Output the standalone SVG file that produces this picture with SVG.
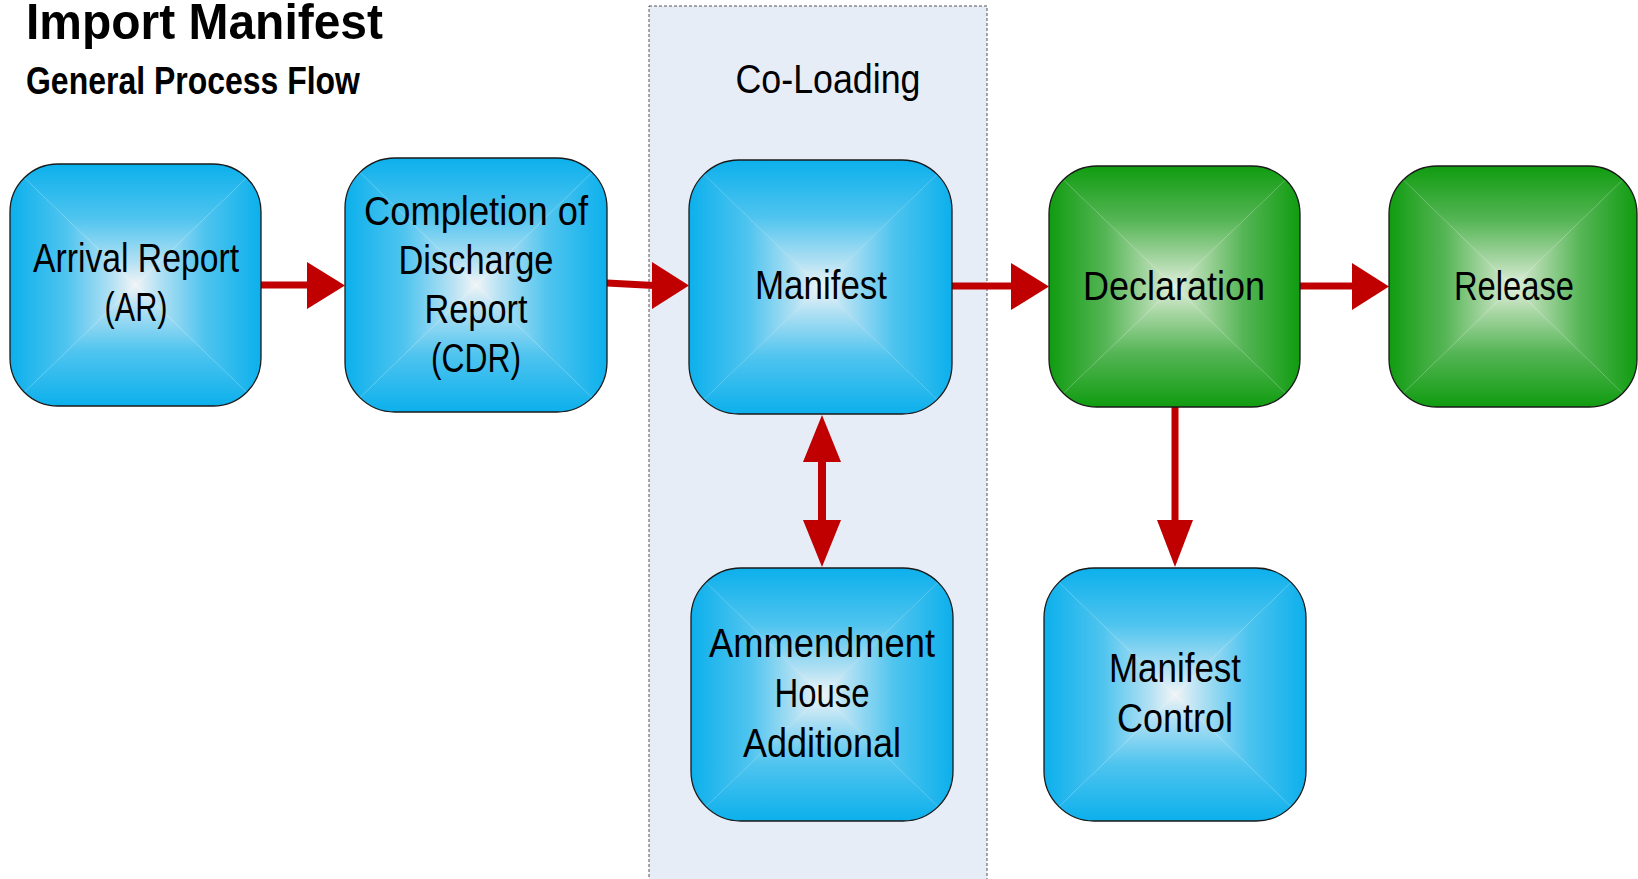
<svg xmlns="http://www.w3.org/2000/svg" width="1638" height="879" viewBox="0 0 1638 879">
<style>
.t{font-family:"Liberation Sans",Arial,sans-serif;font-size:40px;fill:#000;text-anchor:middle}
.h{font-family:"Liberation Sans",Arial,sans-serif;font-weight:bold;fill:#000}
.edge{fill:none;stroke:#1a1a1a;stroke-width:1.3}
.ln{fill:none;stroke:#c00000;stroke-width:7;stroke-linecap:round}
.hd{fill:#c00000;stroke:none}
</style>
<defs>
<clipPath id="rr" clipPathUnits="objectBoundingBox"><rect x="0" y="0" width="1" height="1" rx="0.19" ry="0.2"/></clipPath>
<linearGradient id="bT" x1="0" y1="0" x2="0" y2="1"><stop offset="0" stop-color="#0cb0ec"/><stop offset="0.45" stop-color="#4fc4ef"/><stop offset="0.8" stop-color="#b0e0f3"/><stop offset="1" stop-color="#f0f4f6"/></linearGradient>
<linearGradient id="bB" x1="0" y1="1" x2="0" y2="0"><stop offset="0" stop-color="#0cb0ec"/><stop offset="0.45" stop-color="#4fc4ef"/><stop offset="0.8" stop-color="#b0e0f3"/><stop offset="1" stop-color="#f0f4f6"/></linearGradient>
<linearGradient id="bL" x1="0" y1="0" x2="1" y2="0"><stop offset="0" stop-color="#0cb0ec"/><stop offset="0.45" stop-color="#4fc4ef"/><stop offset="0.8" stop-color="#b0e0f3"/><stop offset="1" stop-color="#f0f4f6"/></linearGradient>
<linearGradient id="bR" x1="1" y1="0" x2="0" y2="0"><stop offset="0" stop-color="#0cb0ec"/><stop offset="0.45" stop-color="#4fc4ef"/><stop offset="0.8" stop-color="#b0e0f3"/><stop offset="1" stop-color="#f0f4f6"/></linearGradient>
<linearGradient id="gT" x1="0" y1="0" x2="0" y2="1"><stop offset="0" stop-color="#109c10"/><stop offset="0.45" stop-color="#55b555"/><stop offset="0.8" stop-color="#acd8a8"/><stop offset="1" stop-color="#e2efdf"/></linearGradient>
<linearGradient id="gB" x1="0" y1="1" x2="0" y2="0"><stop offset="0" stop-color="#109c10"/><stop offset="0.45" stop-color="#55b555"/><stop offset="0.8" stop-color="#acd8a8"/><stop offset="1" stop-color="#e2efdf"/></linearGradient>
<linearGradient id="gL" x1="0" y1="0" x2="1" y2="0"><stop offset="0" stop-color="#109c10"/><stop offset="0.45" stop-color="#55b555"/><stop offset="0.8" stop-color="#acd8a8"/><stop offset="1" stop-color="#e2efdf"/></linearGradient>
<linearGradient id="gR" x1="1" y1="0" x2="0" y2="0"><stop offset="0" stop-color="#109c10"/><stop offset="0.45" stop-color="#55b555"/><stop offset="0.8" stop-color="#acd8a8"/><stop offset="1" stop-color="#e2efdf"/></linearGradient>
<symbol id="blue" viewBox="0 0 100 100" preserveAspectRatio="none">
<g clip-path="url(#rr)">
<polygon points="0,0 100,0 50,50" fill="url(#bT)"/>
<polygon points="0,100 100,100 50,50" fill="url(#bB)"/>
<polygon points="0,0 0,100 50,50" fill="url(#bL)"/>
<polygon points="100,0 100,100 50,50" fill="url(#bR)"/>
</g>
</symbol>
<symbol id="green" viewBox="0 0 100 100" preserveAspectRatio="none">
<g clip-path="url(#rr)">
<polygon points="0,0 100,0 50,50" fill="url(#gT)"/>
<polygon points="0,100 100,100 50,50" fill="url(#gB)"/>
<polygon points="0,0 0,100 50,50" fill="url(#gL)"/>
<polygon points="100,0 100,100 50,50" fill="url(#gR)"/>
</g>
</symbol>
</defs>
<rect width="1638" height="879" fill="#ffffff"/>
<g id="title">
<text class="h" x="26" y="39" font-size="50" textLength="357" lengthAdjust="spacingAndGlyphs">Import Manifest</text>
<text class="h" x="26" y="94" font-size="39" textLength="334" lengthAdjust="spacingAndGlyphs">General Process Flow</text>
</g>
<g id="coloading">
<rect x="649" y="6" width="338" height="885" fill="#e6edf7" stroke="#555" stroke-width="1" stroke-dasharray="3,2"/>
<text class="t" x="828" y="93" font-size="42" textLength="185" lengthAdjust="spacingAndGlyphs">Co-Loading</text>
</g>
<g id="connectors">
<line class="ln" x1="259" y1="285" x2="309" y2="285"/>
<polygon class="hd" points="307,262 345,285.5 307,309"/>
<line class="ln" x1="607" y1="283" x2="654" y2="285.5"/>
<polygon class="hd" points="652,262 689,285.5 652,309"/>
<line class="ln" x1="950" y1="286" x2="1013" y2="286"/>
<polygon class="hd" points="1011,263 1049,286.5 1011,310"/>
<line class="ln" x1="1298" y1="286" x2="1354" y2="286"/>
<polygon class="hd" points="1352,263 1389,286.5 1352,310"/>
<line class="ln" x1="822" y1="460" x2="822" y2="522" stroke-linecap="butt" style="stroke-width:8"/>
<polygon class="hd" points="803,462 822,415 841,462"/>
<polygon class="hd" points="803,520 841,520 822,567"/>
<line class="ln" x1="1175" y1="407" x2="1175" y2="522"/>
<polygon class="hd" points="1157,520 1193,520 1175,567"/>
</g>
<g id="arrival">
<use href="#blue" x="10" y="164" width="251" height="242"/>
<rect class="edge" x="10" y="164" width="251" height="242" rx="48"/>
<text class="t" x="136" y="272" textLength="206" lengthAdjust="spacingAndGlyphs">Arrival Report</text>
<text class="t" x="136" y="321" textLength="63" lengthAdjust="spacingAndGlyphs">(AR)</text>
</g>
<g id="cdr">
<use href="#blue" x="345" y="158" width="262" height="254"/>
<rect class="edge" x="345" y="158" width="262" height="254" rx="50"/>
<text class="t" x="476" y="225" textLength="224" lengthAdjust="spacingAndGlyphs">Completion of</text>
<text class="t" x="476" y="274" textLength="155" lengthAdjust="spacingAndGlyphs">Discharge</text>
<text class="t" x="476" y="323" textLength="103" lengthAdjust="spacingAndGlyphs">Report</text>
<text class="t" x="476" y="372" textLength="90" lengthAdjust="spacingAndGlyphs">(CDR)</text>
</g>
<g id="manifest">
<use href="#blue" x="689" y="160" width="263" height="254"/>
<rect class="edge" x="689" y="160" width="263" height="254" rx="50"/>
<text class="t" x="821" y="299" textLength="132" lengthAdjust="spacingAndGlyphs">Manifest</text>
</g>
<g id="declaration">
<use href="#green" x="1049" y="166" width="251" height="241"/>
<rect class="edge" x="1049" y="166" width="251" height="241" rx="48"/>
<text class="t" x="1174" y="300" textLength="182" lengthAdjust="spacingAndGlyphs">Declaration</text>
</g>
<g id="release">
<use href="#green" x="1389" y="166" width="248" height="241"/>
<rect class="edge" x="1389" y="166" width="248" height="241" rx="48"/>
<text class="t" x="1514" y="300" textLength="120" lengthAdjust="spacingAndGlyphs">Release</text>
</g>
<g id="amendment">
<use href="#blue" x="691" y="568" width="262" height="253"/>
<rect class="edge" x="691" y="568" width="262" height="253" rx="50"/>
<text class="t" x="822" y="657" textLength="226" lengthAdjust="spacingAndGlyphs">Ammendment</text>
<text class="t" x="822" y="707" textLength="95" lengthAdjust="spacingAndGlyphs">House</text>
<text class="t" x="822" y="757" textLength="158" lengthAdjust="spacingAndGlyphs">Additional</text>
</g>
<g id="manifestcontrol">
<use href="#blue" x="1044" y="568" width="262" height="253"/>
<rect class="edge" x="1044" y="568" width="262" height="253" rx="50"/>
<text class="t" x="1175" y="682" textLength="132" lengthAdjust="spacingAndGlyphs">Manifest</text>
<text class="t" x="1175" y="732" textLength="116" lengthAdjust="spacingAndGlyphs">Control</text>
</g>
</svg>
